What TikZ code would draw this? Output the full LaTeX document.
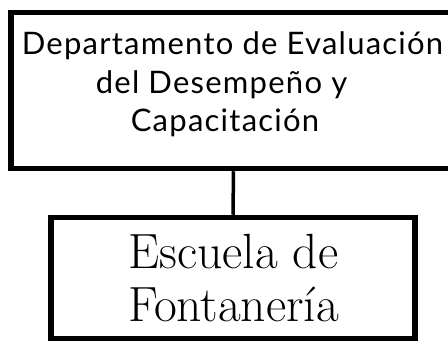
\documentclass[tikz,border=0pt]{standalone}
\usepackage{fontspec}
\setmainfont{Latin Modern Roman}
\newfontfamily\topfont[LetterSpace=4]{Lato}
\usetikzlibrary{shadows}
\tikzset{
  boxstyle/.style={draw=black, line width=5.5pt, fill=white, rectangle, inner sep=0pt,
    drop shadow={shadow xshift=2.5pt, shadow yshift=-2.5pt, fill=black!14, opacity=1}},
  toptxt/.style={anchor=base, inner sep=0pt, font=\topfont\fontsize{31}{36}\selectfont},
  bottxt/.style={anchor=base, inner sep=0pt, font=\fontsize{49.5}{53}\selectfont},
  link/.style={draw=black, line width=3.5pt}
}
\begin{document}
\begin{tikzpicture}[x=1pt,y=-1pt]
\clip (0,0) rectangle (448,343);
\fill[white] (0,0) rectangle (448,343);
\node[boxstyle, minimum width=445pt, minimum height=156pt] (top) at (233.5,90.5) {};
\node[boxstyle, minimum width=364pt, minimum height=121pt] (bot) at (233,278) {};
\draw[link] (top.south) -- (bot.north);
\node[toptxt] (t1) at (232.5,54) {Departamento de Evaluación};
\node[toptxt] (t2) at (221.5,93) {del Desempeño y};
\node[toptxt] (t3) at (225,131) {Capacitación};
\node[bottxt] (b1) at (233.5,268) {Escuela de};
\node[bottxt] (b2) at (233.5,321) {Fontanería};
\end{tikzpicture}
\end{document}
